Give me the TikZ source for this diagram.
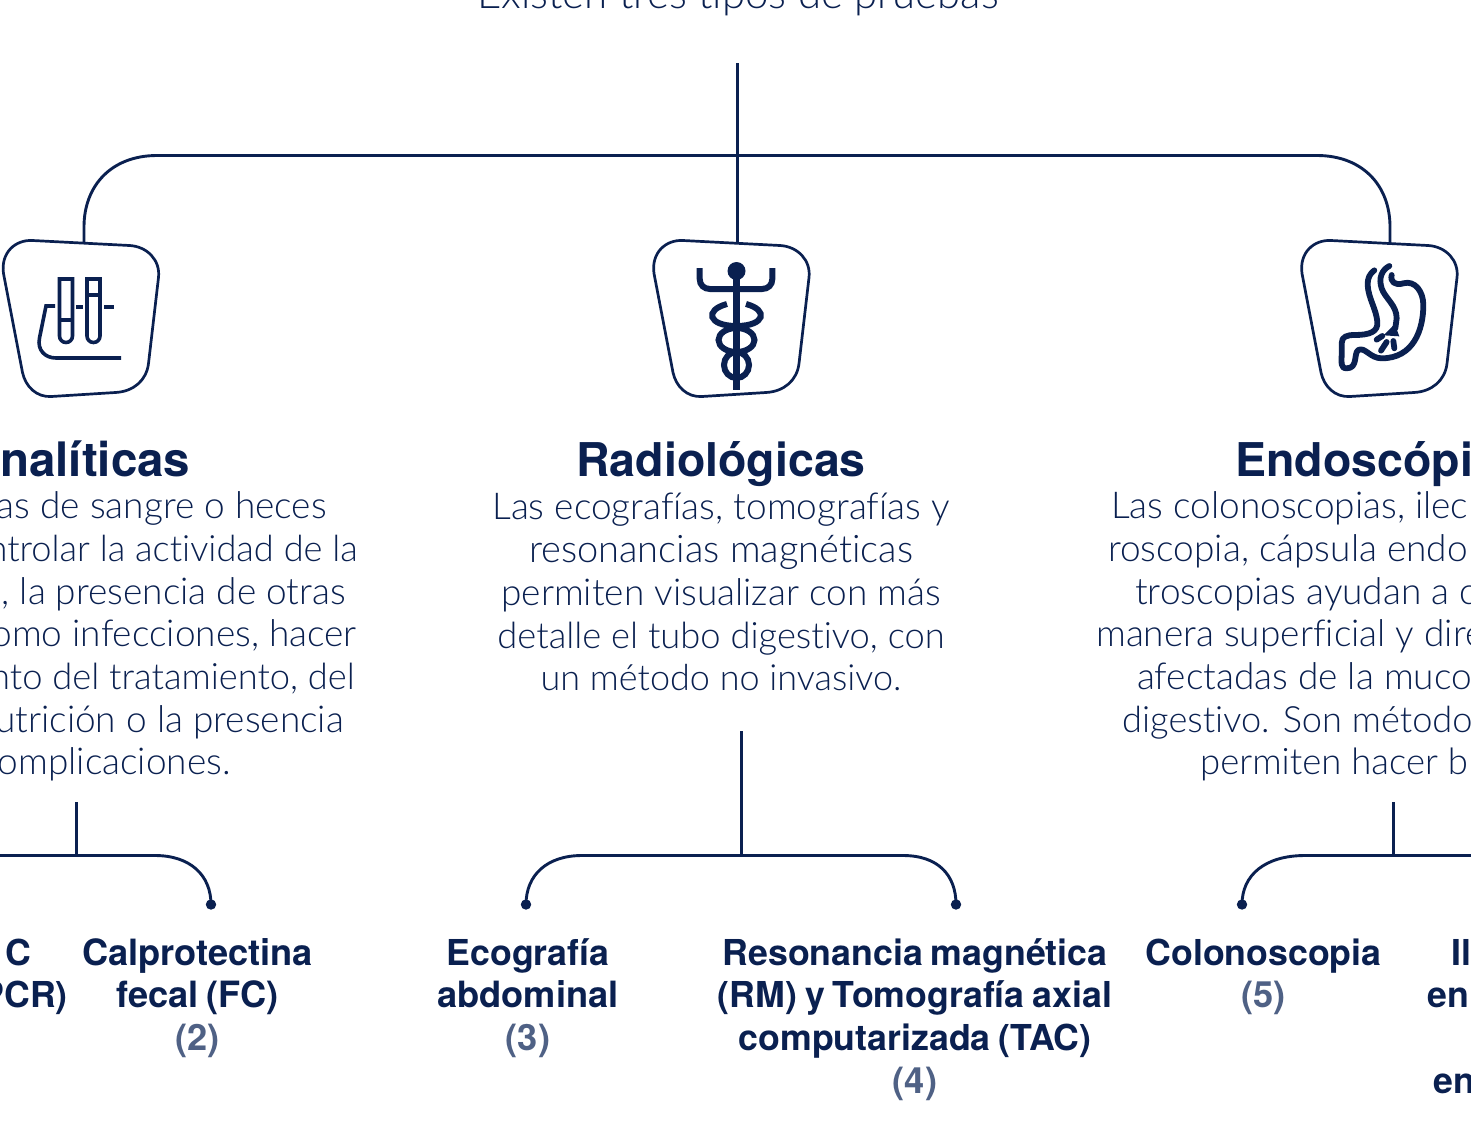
\documentclass[tikz,border=0pt]{standalone}
\usepackage{fontspec}
\setmainfont{Liberation Sans}
\newfontfamily\lightf{Lato Light}[Ligatures=NoCommon]
\newfontfamily\boldf{TeX Gyre Heros}[BoldFont=* Bold,WordSpace=0.8]
\definecolor{navy}{HTML}{0A2050}
\definecolor{slate}{HTML}{4F6185}
\newcommand{\fs}[1]{\fontsize{#1}{37}\selectfont}
\tikzset{
  conn/.style={draw=navy,line width=2.9pt},
  boxline/.style={draw=navy,line width=2.7pt,line join=round},
  ico/.style={draw=navy,line width=3.6pt},
  icob/.style={draw=navy,line width=5.8pt,line cap=round},
  body/.style={inner sep=0pt,text=navy,font=\lightf\fontsize{37}{37}\selectfont},
  top/.style={inner sep=0pt,text=navy,font=\lightf\fontsize{42}{42}\selectfont},
  head/.style={inner sep=0pt,text=navy,font=\boldf\bfseries\fontsize{46.5}{46.5}\selectfont},
  item/.style={inner sep=0pt,text=navy,font=\boldf\bfseries\fontsize{35.7}{37}\selectfont},
  ref/.style={inner sep=0pt,text=slate,font=\boldf\bfseries\fontsize{36.2}{37}\selectfont},
}
\newcommand{\iconbox}[2]{%
  \draw[boxline,shift={(#1,#2)}] (0,33) .. controls (-3,12) and (12,-1) .. (29,0) -- (126,5)
    .. controls (144,6) and (157,20) .. (155,37) -- (145,123)
    .. controls (143,140) and (130,151) .. (112,152) -- (48,156)
    .. controls (33,157) and (22,146) .. (19,132) -- cycle;}
\begin{document}
\begin{tikzpicture}[x=1pt,y=-1pt]
\useasboundingbox (0,0) rectangle (1471,1143);
\clip (0,0) rectangle (1471,1143);
\fill[white] (0,0) rectangle (1471,1143);

\node[top,anchor=base] (title) at (738,9) {Existen tres tipos de pruebas};

% icon frames
\iconbox{3.5}{240.5}
\iconbox{654}{240.5}
\iconbox{1302}{240.5}

% connector anchor points
\coordinate (stem) at (737.5,63);
\coordinate (junc) at (737.5,155.5);
\coordinate (boxA) at (84,243);
\coordinate (boxB) at (737.5,243);
\coordinate (boxC) at (1390,243);
\draw[conn] (stem) -- (boxB);
\draw[conn] (boxA) -- ++(0,-16) .. controls (84,185) and (112,155.5) .. (157,155.5) -- (junc)
  -- (1317,155.5) .. controls (1362,155.5) and (1390,185) .. (1390,227) -- (boxC);

% lower connectors
\coordinate (sA) at (76.5,802); \coordinate (jA) at (76.5,855.5);
\coordinate (dA) at (211,904.5); \coordinate (eA) at (0,855.5);
\draw[conn] (sA) -- (jA);
\draw[conn] (eA) -- (jA) -- (155,855.5) .. controls (190,855.5) and (211,875) .. (dA);
\fill[navy] (dA) circle (5.2);

\coordinate (sB) at (741.5,731); \coordinate (jB) at (741.5,855.5);
\coordinate (dB1) at (526,904.5); \coordinate (dB2) at (956,904.5);
\draw[conn] (sB) -- (jB);
\draw[conn] (dB1) .. controls (526,875) and (547,855.5) .. (582,855.5) -- (jB) -- (903,855.5)
  .. controls (938,855.5) and (956,875) .. (dB2);
\fill[navy] (dB1) circle (5.2);
\fill[navy] (dB2) circle (5.2);

\coordinate (sC) at (1393.5,802); \coordinate (jC) at (1393.5,855.5);
\coordinate (dC) at (1242,904.5); \coordinate (eC) at (1471,855.5);
\draw[conn] (sC) -- (jC);
\draw[conn] (dC) .. controls (1242,875) and (1265,855.5) .. (1305,855.5) -- (jC) -- (eC);
\fill[navy] (dC) circle (5.2);

% test tubes icon
\draw[ico] (59.5,279) -- (72.5,279) -- (72.5,336) arc[start angle=0,end angle=180,radius=6.5] -- cycle;
\draw[ico] (59.5,320) -- (72.5,320);
\draw[ico] (87,279) -- (100,279) -- (100,336) arc[start angle=0,end angle=180,radius=6.5] -- cycle;
\draw[ico] (87,295) -- (100,295);
\draw[ico] (76,307) -- (83,307);
\draw[ico] (104,307) -- (114,307);
\draw[ico] (55,306) -- (46,306) -- (39.5,338) .. controls (37,350) and (45,358) .. (56,358) -- (121,358);

% caduceus icon
\draw[navy,line width=7pt] (736.5,272) -- (736.5,390);
\fill[navy] (736.5,271) circle (9);
\draw[draw=navy,line width=6pt] (699.7,268) -- (699.7,279) .. controls (699.7,285) and (704,289) .. (710,289)
  -- (762,289) .. controls (768,289) and (772.3,285) .. (772.3,279) -- (772.3,268);
\draw[draw=navy,line width=6pt] (727,304) .. controls (704,310) and (708,326) .. (736.5,326)
  .. controls (765,326) and (769,310) .. (746,304);
\draw[draw=navy,line width=6pt] (736.5,340) ellipse [x radius=18,y radius=12];
\draw[draw=navy,line width=6pt] (736.5,365) ellipse [x radius=12.5,y radius=13];

% stomach icon
\begin{scope}[shift={(1290,230)},x=0.3333pt,y=-0.3333pt]
\draw[icob,line join=round] (305,135) .. controls (300,155) and (315,168) .. (340,160)
  .. controls (375,150) and (400,185) .. (400,225) .. controls (400,300) and (370,385) .. (275,385)
  .. controls (240,385) and (225,350) .. (205,360) .. controls (190,370) and (205,415) .. (170,415)
  .. controls (150,415) and (155,395) .. (155,375) -- (155,340) .. controls (155,320) and (170,315) .. (195,315)
  .. controls (240,315) and (265,305) .. (262,275) .. controls (258,235) and (235,205) .. (233,165)
  .. controls (232,145) and (240,130) .. (253,121);
\draw[icob] (298,108) .. controls (275,120) and (265,145) .. (275,175)
  .. controls (285,205) and (320,225) .. (320,265) -- (316,295);
\fill[navy] (314,282) -- (281,316) -- (328,319) -- cycle;
\draw[icob] (260,329) -- (277,318);
\draw[icob] (273,362) -- (290,336);
\draw[icob] (313,355) -- (310,333);
\end{scope}

% headings
\node[head,anchor=base east] (hA) at (190.5,476) {\fs{47.5}nalíticas};
\node[head,anchor=base] (hB) at (721,476) {Radiológicas};
\node[head,anchor=base west] (hC) at (1235,476) {Endoscópi};

% left column
\node[body,anchor=base east] (a1) at (327,518) {as de sangre o heces};
\node[body,anchor=base east] (a2) at (358,561) {\fs{36.2}ntrolar la actividad de la};
\node[body,anchor=base east] (a3) at (346,604) {d, la presencia de otras};
\node[body,anchor=base east] (a4) at (357,646) {omo infecciones, hacer};
\node[body,anchor=base east] (a5) at (355,689) {\fs{36.3}nto del tratamiento, del};
\node[body,anchor=base east] (a6) at (344,732) {utrición o la presencia};
\node[body,anchor=base east] (a7) at (231,774) {omplicaciones.};

% middle column
\node[body,anchor=base] (b1) at (721,519) {Las ecografías, tomografías y};
\node[body,anchor=base] (b2) at (721,562) {\fs{38}resonancias magnéticas};
\node[body,anchor=base] (b3) at (721,605) {permiten visualizar con más};
\node[body,anchor=base] (b4) at (721,648) {\fs{36.3}detalle el tubo digestivo, con};
\node[body,anchor=base] (b5) at (721,690) {\fs{36}un método no invasivo.};

% right column
\node[body,anchor=base west] (c1) at (1111,518) {Las colonoscopias, ilec};
\node[body,anchor=base west] (c2) at (1108,561) {roscopia, cápsula endo};
\node[body,anchor=base west] (c3) at (1135,604) {troscopias ayudan a c};
\node[body,anchor=base west] (c4) at (1096,646) {manera superficial y dire};
\node[body,anchor=base west] (c5) at (1137,689) {afectadas de la muco};
\node[body,anchor=base west] (c6) at (1122,732) {\fs{36.2}digestivo. Son método};
\node[body,anchor=base west] (c7) at (1200,774) {\fs{36.5}permiten hacer b};

% items
\node[item,anchor=base] (i1) at (18,965) {C};
\node[item,anchor=base east] (i2) at (68,1007) {PCR)};
\node[item,anchor=base] (i3) at (197.5,965) {\fs{36.2}Calprotectina};
\node[item,anchor=base] (i4) at (197.5,1007) {\fs{36.2}fecal (FC)};
\node[ref,anchor=base] (r2) at (197.5,1050) {(2)};
\node[item,anchor=base] (i5) at (528,965) {Ecografía};
\node[item,anchor=base] (i6) at (528,1007) {\fs{36.2}abdominal};
\node[ref,anchor=base] (r3) at (528,1050) {(3)};
\node[item,anchor=base] (i7) at (915,965) {Resonancia magnética};
\node[item,anchor=base] (i8) at (915,1007) {(RM) y Tomografía axial};
\node[item,anchor=base] (i9) at (915,1050) {computarizada (TAC)};
\node[ref,anchor=base] (r4) at (915,1093) {(4)};
\node[item,anchor=base] (i10) at (1263.5,965) {Colonoscopia};
\node[ref,anchor=base] (r5) at (1263.5,1007) {(5)};
\node[item,anchor=base west] (i11) at (1451,965) {Il};
\node[item,anchor=base west] (i12) at (1427,1007) {en};
\node[item,anchor=base west] (i13) at (1433,1093) {en};
\end{tikzpicture}
\end{document}
